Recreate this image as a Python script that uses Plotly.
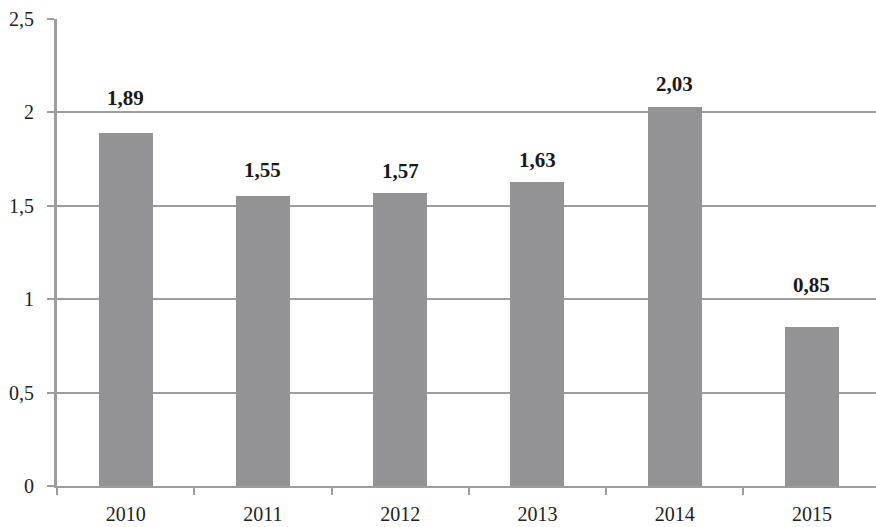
import plotly.graph_objects as go

# Values per year
years = ["2010", "2011", "2012", "2013", "2014", "2015"]
values = [1.89, 1.55, 1.57, 1.63, 2.03, 0.85]

# Vertical offset (px) of each value label above its bar
label_shift = [35, 26, 22, 22, 23, 42]

bar_color = "#939396"
line_color = "#9d9d9f"
serif = "Liberation Serif, Times New Roman, serif"

fig = go.Figure()
fig.add_trace(go.Bar(
    x=years,
    y=values,
    width=0.393,
    marker=dict(color=bar_color, line=dict(width=0)),
    hoverinfo="skip",
))

# Value labels: category index on x, bar value on y
for i, (v, dy) in enumerate(zip(values, label_shift)):
    fig.add_annotation(
        x=i, y=v, yshift=dy,
        xref="x", yref="y",
        text="<b>" + f"{v:.2f}".replace(".", ",") + "</b>",
        showarrow=False, yanchor="middle", xanchor="center",
        font=dict(family=serif, size=21, color="#1a1a1a"),
    )

fig.update_layout(
    width=876, height=527,
    margin=dict(l=57, r=0, t=19, b=41, autoexpand=False),
    paper_bgcolor="white", plot_bgcolor="white",
    separators=", ",
    showlegend=False,
    font=dict(family=serif, size=20, color="#222222"),
    xaxis=dict(
        type="category",
        range=[-0.5, 5.467],
        tickson="boundaries",
        ticks="outside", ticklen=7, tickwidth=2, tickcolor=line_color,
        showgrid=False,
        showline=True, linecolor=line_color, linewidth=2,
        ticklabelstandoff=9,
        automargin=False,
        tickfont=dict(family=serif, size=20, color="#222222"),
    ),
    yaxis=dict(
        range=[0, 2.5],
        tickvals=[0, 0.5, 1, 1.5, 2, 2.5],
        ticks="outside", ticklen=7, tickwidth=2, tickcolor=line_color,
        showgrid=True, gridcolor=line_color, gridwidth=2,
        zeroline=False,
        showline=True, linecolor=line_color, linewidth=3,
        ticklabelstandoff=9,
        automargin=False,
        tickfont=dict(family=serif, size=20, color="#222222"),
    ),
    bargap=0,
)

fig.write_html("out.html")
